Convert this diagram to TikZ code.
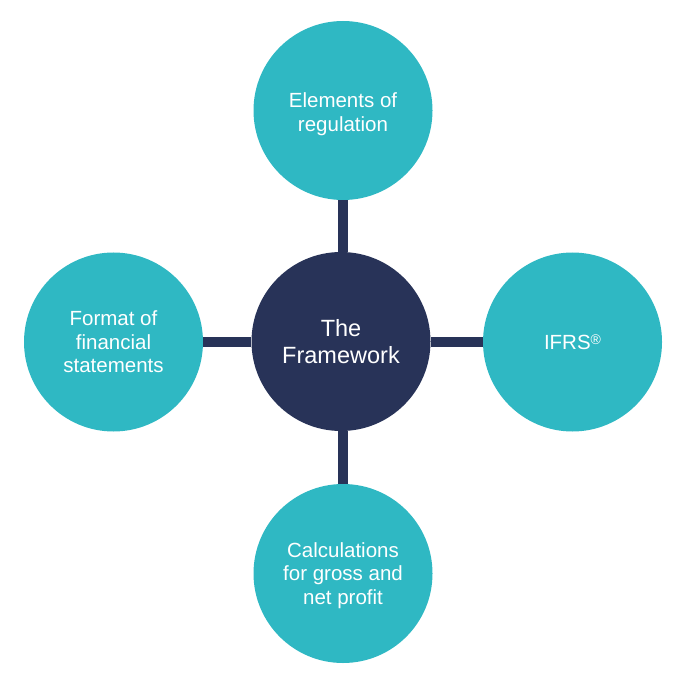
\documentclass[tikz,border=0pt]{standalone}
\usepackage{fontspec}
\setmainfont{Liberation Sans}
\definecolor{teal}{HTML}{2FB8C3}
\definecolor{navy}{HTML}{283358}
\begin{document}
\begin{tikzpicture}[x=1pt,y=-1pt,
  label text/.style={text=white,align=center,inner sep=0pt,font=\fontsize{20.5}{23.5}\selectfont},
  outer/.style={circle,fill=teal,minimum size=179pt,inner sep=0pt,label text},
  hub/.style={circle,fill=navy,minimum size=179pt,inner sep=0pt,text=white,align=center,font=\fontsize{23.5}{27}\selectfont},
  link/.style={draw=navy,line width=10pt}]
\useasboundingbox (0,0) rectangle (684,684);
\node[hub] (c) at (341,341.5) {The\\Framework};
\node[outer] (t) at (343,110.5) {};
\node[label text] (tt) at ([yshift=-3.5pt]t.center) {Elements of\\regulation};
\node[outer] (r) at (572.5,342) {IFRS\raisebox{0.5ex}{\fontsize{14}{14}\selectfont\textregistered}};
\node[outer] (l) at (113.5,342) {Format of\\financial\\statements};
\node[outer] (b) at (343,573.5) {};
\node[label text] (bt) at ([yshift=-2pt]b.center) {Calculations\\for gross and\\net profit};
\draw[link] (t.south) -- (t.south |- c.north);
\draw[link] (b.north) -- (b.north |- c.south);
\draw[link] (l.east) -- (l.east -| c.west);
\draw[link] (r.west) -- (r.west -| c.east);
\end{tikzpicture}
\end{document}
